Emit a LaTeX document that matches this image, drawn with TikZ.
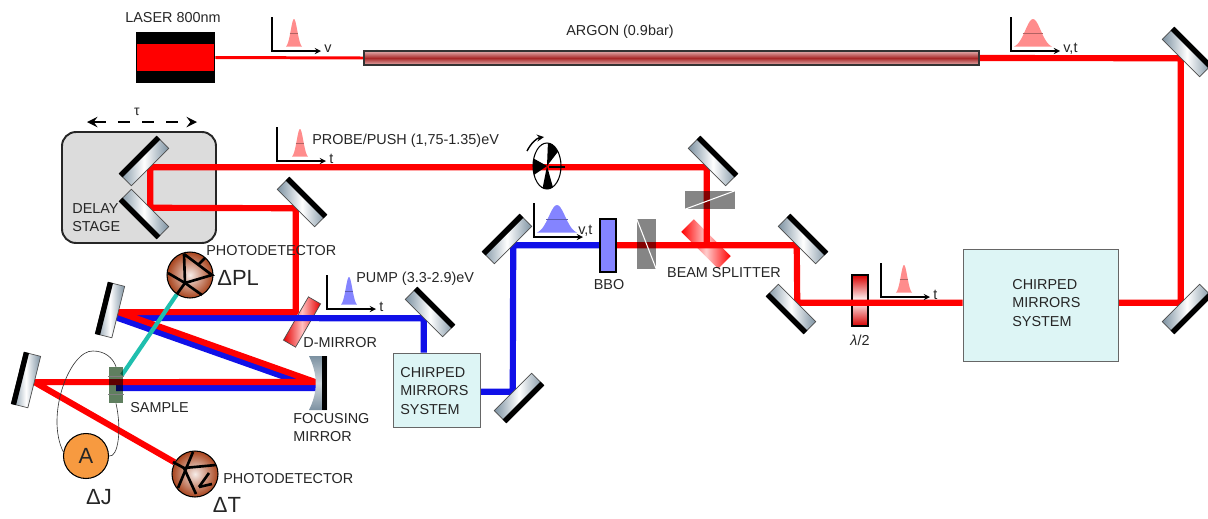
\documentclass[tikz,border=0pt]{standalone}
\usepackage{fontspec}
\setmainfont{Liberation Sans}
\usetikzlibrary{backgrounds,calc,shapes.geometric}

\definecolor{mirrorgray}{HTML}{7C91A1}
\definecolor{textgray}{HTML}{262626}
\definecolor{boxcyan}{HTML}{DDF5F5}
\definecolor{stagegray}{HTML}{DCDCDC}
\definecolor{pulsered}{HTML}{FF8C8C}
\definecolor{pulseblue}{HTML}{8484FF}
\definecolor{beamblue}{HTML}{1010E8}
\definecolor{beamteal}{HTML}{1FBFAE}
\definecolor{brownring}{HTML}{A8431C}
\definecolor{ampere}{HTML}{F79A40}
\definecolor{samplegreen}{HTML}{5F7F5F}
\definecolor{tubepink}{HTML}{E4AFAF}
\definecolor{tubedark}{HTML}{A82828}

% axes and one pulse: name, x, y, peak offset, half width, colour, label, label options
\newcommand{\pulse}[8]{%
    \coordinate (#1) at (#2,#3);
    \fill[#6] plot[domain=-1:1,samples=25] ({#2+#4+#5*\x},{#3-3-29*exp(-3*\x*\x)});
    \draw[#6!70!black,line width=.4pt] ({#2+#4-.55*#5},{#3-18}) -- ({#2+#4+.55*#5},{#3-18});
    \draw[axis] ({#2},{#3-34}) |- ({#2+49},{#3});
    \node[lbl,anchor=west,#8] (#1lbl) at ({#2+52},{#3-2}) {#7};
}
% mirror with its black back: name, x, y, angle
\newcommand{\mirror}[4]{%
    \node[mirrorbody, rotate=#4] (#1) at (#2,#3) {};
    \fill[black] (#1.north west) -- (#1.north east) -- ($(#1.north east)!.3!(#1.south east)$)
        -- ($(#1.north west)!.3!(#1.south west)$) -- cycle;
}

\begin{document}
\begin{tikzpicture}[
    x=0.02cm, y=-0.02cm,
    lbl/.style={font=\fontsize{8.2}{10.3}\selectfont, text=textgray, inner sep=0pt, align=left},
    biglbl/.style={font=\fontsize{12.5}{14}\selectfont, text=textgray, inner sep=0pt},
    axis/.style={-stealth, line width=.6pt, black},
    redbeam/.style={draw=red, line width=3.5pt, line join=round},
    bluebeam/.style={draw=beamblue, line width=3.5pt, line join=round},
    mirrorbody/.style={rectangle, draw=black!70, line width=.4pt, inner sep=0pt,
        minimum width=1.06cm, minimum height=.34cm,
        left color=mirrorgray, right color=mirrorgray, middle color=white},
    chirped/.style={rectangle, draw=black!60, line width=.5pt, fill=boxcyan, inner sep=0pt},
    detector/.style={circle, draw=black, line width=.6pt, inner sep=0pt, minimum size=.92cm,
        inner color=white!90!brownring, outer color=brownring},
    detline/.style={line width=1.5pt, black},
    plate/.style={rectangle, inner sep=0pt, draw=black, line width=.8pt}
]
    \useasboundingbox (0,0) rectangle (1208,518);

    % --- 1. LASER AND FIBRE ---
    \node[rectangle, fill=black, inner sep=0pt, minimum width=1.58cm, minimum height=1.02cm] (laser) at (175.5,57.5) {};
    \node[rectangle, fill=red, inner sep=0pt, minimum width=1.54cm, minimum height=.54cm] (lasercore) at (175.5,57.5) {};
    \node[lbl] (laserlbl) at (173,18) {LASER 800nm};
    \node[rectangle, draw=black!80, line width=.8pt, inner sep=0pt, minimum width=12.3cm, minimum height=.28cm,
        top color=tubepink, bottom color=tubepink, middle color=tubedark] (argon) at (671.5,58) {};
    \node[lbl] (argonlbl) at (620,32) {ARGON (0.9bar)};

    % --- 2. MIRRORS ---
    \mirror{mtopr}{1187}{52}{-45}
    \mirror{mbotr}{1187}{309}{-135}
    \mirror{mhalfa}{803}{239}{-45}
    \mirror{mhalfb}{791}{309}{135}
    \mirror{mchop}{713}{161}{-45}
    \mirror{mdelaya}{144}{161}{45}
    \mirror{mdelayb}{144}{214}{135}
    \mirror{mprobe}{302}{202}{-45}
    \mirror{mpump}{430}{312}{-45}
    \mirror{mblueb}{519}{398}{-135}
    \mirror{mbluet}{507}{239}{45}
    \mirror{mlefta}{110}{310}{76}
    \mirror{mleftb}{26}{380}{76}

    % focusing mirror
    \shade[top color=mirrorgray, bottom color=mirrorgray, middle color=mirrorgray!35!white]
        (309,356) .. controls (318,375) and (318,392) .. (309,410) -- (327,410) -- (327,356) -- cycle;
    \fill[black] (322,356) rectangle (327,410);
    \coordinate (focusr) at (315,382);
    \coordinate (focusb) at (316,388);
    \coordinate (bluehit) at (118,318);

    % --- 3. BOXES AND PLATES ---
    \node[chirped, minimum width=3.1cm, minimum height=2.24cm] (chirpa) at (1040.5,305) {};
    \node[lbl, anchor=west] (chirpalbl) at (1012,303) {CHIRPED\\MIRRORS\\SYSTEM};
    \node[chirped, minimum width=1.74cm, minimum height=1.48cm] (chirpb) at (436.5,390) {};
    \node[lbl, anchor=west] (chirpblbl) at (400,391) {CHIRPED\\MIRRORS\\SYSTEM};

    \node[plate, fill=pulseblue, minimum width=.32cm, minimum height=1.06cm] (bbo) at (608,245.5) {};
    \node[lbl] (bbolbl) at (609,285) {BBO};
    \node[lbl] (splitlbl) at (724,273) {BEAM SPLITTER};
    \node[lbl] (halflbl) at (860,340) {\textit{λ}/2};

    \begin{scope}[blend mode=multiply]
        \node[rectangle, fill=black!48, inner sep=0pt, minimum width=.38cm, minimum height=1cm] (compv) at (646.5,244) {};
        \node[rectangle, fill=black!48, inner sep=0pt, minimum width=1cm, minimum height=.36cm] (comph) at (710,200) {};
        \node[rectangle, fill=samplegreen, inner sep=0pt, minimum width=.3cm, minimum height=.72cm] (sample) at (116,385) {};
    \end{scope}
    \draw[white, line width=.6pt] (compv.north west) -- (compv.south east);
    \draw[white, line width=.6pt] (comph.south west) -- (comph.north east);
    \draw[black!50, line width=.3pt] (sample.west |- 0,376) -- (sample.east |- 0,376);
    \draw[black!50, line width=.3pt] (sample.west |- 0,394) -- (sample.east |- 0,394);
    \coordinate (samplespot) at (122,375);

    % --- 4. DETECTORS ---
    \node[detector] (detpl) at (190,275) {};
    \begin{scope}[shift={(190,275)}]
        \draw[detline] (-6,-21) -- (22,0) -- (-5,8) -- (-6,-21);
        \draw[detline] (-22,-2) -- (-5,8) -- (-13,19);
        \draw[detline] (-5,8) -- (12,20);
        \draw[detline] (15,-17) -- (8,-10);
    \end{scope}
    \node[lbl, anchor=west] (detpllbl) at (206,251) {PHOTODETECTOR};
    \node[biglbl, anchor=west] (pllbl) at (217,278) {ΔPL};

    \node[detector] (dett) at (195,474) {};
    \begin{scope}[shift={(195,474)}]
        \draw[detline] (-22,-12) -- (-11,-6) -- (21,-9);
        \draw[detline] (-2,-22) -- (-17,14);
        \draw[detline] (-11,-6) -- (1,20);
        \draw[detline] (4,13) -- (14,-1);
        \draw[detline] (4,13) -- (17,10);
    \end{scope}
    \node[lbl, anchor=west] (dettlbl) at (223,479) {PHOTODETECTOR};
    \node[biglbl] (tlbl) at (227,505) {ΔT};

    \node[circle, draw=black, line width=.6pt, fill=ampere, inner sep=0pt, minimum size=.9cm,
        font=\fontsize{12.5}{14}\selectfont, text=textgray] (ammeter) at (86,456) {A};
    \node[biglbl] (jlbl) at (99,497) {ΔJ};

    \node[lbl, anchor=west] (samplelbl) at (130,408) {SAMPLE};
    \node[lbl, anchor=west] (focuslbl) at (293,427.5) {FOCUSING\\MIRROR};
    \node[lbl, anchor=west] (dmirrorlbl) at (303,343) {D-MIRROR};

    % --- 5. PULSES ---
    \pulse{pulsev}{272}{51}{22}{8}{pulsered}{v}{}
    \pulse{pulsevt}{1011}{51}{22}{19}{pulsered}{v,t}{}
    \pulse{pulseprobe}{277}{161}{23}{8}{pulsered}{t}{}
    \pulse{pulsepump}{327}{309}{22}{8}{pulseblue}{t}{}
    \pulse{pulsebbo}{534}{237}{23}{20}{pulseblue}{v,t}{xshift=-.16cm,yshift=.08cm}
    \pulse{pulset}{881}{297}{23}{8}{pulsered}{t}{}
    \node[lbl, anchor=west] (probelbl) at (312,141) {PROBE/PUSH (1,75-1.35)eV};
    \node[lbl, anchor=west] (pumplbl) at (356,279) {PUMP (3.3-2.9)eV};

    % --- 6. CHOPPER ---
    \begin{scope}[shift={(547,166)}]
        \begin{scope}
            \clip (0,0) ellipse [x radius=14, y radius=23];
            \fill[black] (0,0) -- (-16,-9) -- (-16,11) -- cycle;
            \fill[black] (0,0) -- (1,-25) -- (13,-17) -- cycle;
            \fill[black] (0,0) -- (-5,25) -- (7,25) -- cycle;
        \end{scope}
        \draw[black, line width=.6pt] (0,0) ellipse [x radius=14, y radius=23];
        \draw[black, line width=1pt] (2,1) -- (18,1);
        \draw[-stealth, black, line width=.8pt] (-20,-15) .. controls (-16,-23) and (-10,-28) .. (-3,-29);
    \end{scope}

    % --- 7. DELAY ARROW ---
    \coordinate (tauleft) at (87,122);
    \coordinate (tauright) at (197,122);
    \draw[stealth-stealth, dashed, dash pattern=on 6.8pt off 7pt, line width=1.6pt, black] (tauleft) -- (tauright);
    \node[lbl, font=\fontsize{8}{9}\selectfont] (taulbl) at (137,112) {τ};

    % --- 8. BEAMS ---
    \begin{scope}[on background layer]
        \node[rectangle, rounded corners=.28cm, draw=black!85, line width=1.1pt, fill=stagegray,
            minimum width=3.08cm, minimum height=2.22cm, inner sep=0pt] (stage) at (139,187.5) {};
        \node[lbl, anchor=west] (stagelbl) at (72,218) {DELAY\\STAGE};
        \node[rectangle, draw=black!70, line width=.4pt, inner sep=0pt, minimum width=1cm, minimum height=.28cm,
            left color=red!90!black, right color=red!90!black, middle color=red!25!white, rotate=60] (dmirror) at (302,322) {};
        \node[rectangle, inner sep=0pt, minimum width=1.04cm, minimum height=.36cm,
            left color=red, right color=red, middle color=red!20!white, rotate=-45] (split) at (706,244) {};
        \node[plate, minimum width=.32cm, minimum height=1.02cm,
            top color=red!85!black, bottom color=red!85!black, middle color=white] (halfwave) at (860,300.5) {};

        \draw[bluebeam] (mpump.south |- chirpb.north) -- (mpump.south) -- (bluehit) -- (focusb) -- (sample.center |- focusb);
        \draw[bluebeam] (chirpb.east |- mblueb.south) -- (mblueb.south) -- (mbluet.south) -- (bbo.west |- mbluet.south);

        \draw[red, line width=1.7pt] (laser.east) -- (argon.west);
        \draw[redbeam] (argon.east) -- (mtopr.south) -- (mbotr.south) -- (chirpa.east |- mbotr.south);
        \draw[redbeam] (chirpa.west |- mbotr.south) -- (mhalfb.south) -- (mhalfa.south) -- (bbo.east |- mhalfa.south);
        \draw[redbeam] (mchop.south |- mhalfa.south) -- (mchop.south) -- (mdelaya.south) -- (mdelayb.south)
            -- (mprobe.south) -- (mprobe.south |- mlefta.south) -- (mlefta.south) -- (focusr) -- (mleftb.south) -- (dett);
        \draw[draw=beamteal, line width=2.4pt] (samplespot) -- (detpl);

        \draw[black!80, line width=.35pt] (ammeter.170) .. controls (45,415) and (70,350) .. (93,351)
            .. controls (105,351) and (113,358) .. (sample.north);
        \draw[black!80, line width=.35pt] (ammeter.east) .. controls (118,458) and (122,430) .. (sample.south);
    \end{scope}
\end{tikzpicture}
\end{document}
